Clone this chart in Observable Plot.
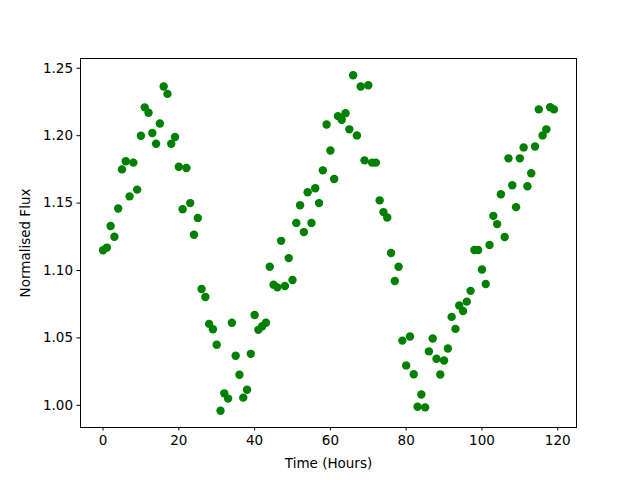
<!DOCTYPE html>
<html>
<head>
<meta charset="utf-8">
<script src="https://cdn.jsdelivr.net/npm/d3@7"></script>
<script src="https://cdn.jsdelivr.net/npm/@observablehq/plot@0.6"></script>
<style>
  html, body { margin: 0; padding: 0; background: #fff; }
</style>
</head>
<body>
<div id="chart"></div>
<script>
const hours = d3.range(0, 120);
const flux = [
  1.115, 1.117, 1.133, 1.125, 1.146, 1.175, 1.181, 1.155, 1.180, 1.160,
  1.200, 1.221, 1.217, 1.202, 1.194, 1.209, 1.2365, 1.231, 1.194, 1.199,
  1.177, 1.1455, 1.176, 1.150, 1.1265, 1.139, 1.0863, 1.0804, 1.0604, 1.0564,
  1.0449, 0.996, 1.0089, 1.005, 1.0612, 1.0368, 1.0227, 1.0057, 1.0116, 1.0382,
  1.067, 1.056, 1.0587, 1.0612, 1.1028, 1.0895, 1.0875, 1.122, 1.0885, 1.1092,
  1.093, 1.1353, 1.1484, 1.1285, 1.158, 1.1353, 1.161, 1.150, 1.1743, 1.2083,
  1.189, 1.1679, 1.2145, 1.2118, 1.2167, 1.2047, 1.2448, 1.2002, 1.2365, 1.1817,
  1.2374, 1.180, 1.180, 1.152, 1.1433, 1.1393, 1.113, 1.0922, 1.1028, 1.048,
  1.0296, 1.051, 1.023, 0.999, 1.008, 0.9985, 1.040, 1.0496, 1.0345, 1.0229,
  1.0333, 1.0422, 1.0656, 1.0567, 1.074, 1.070, 1.0769, 1.0849, 1.1152, 1.1152,
  1.1008, 1.090, 1.1189, 1.1405, 1.1344, 1.1566, 1.1248, 1.1832, 1.1632, 1.147,
  1.1832, 1.1913, 1.1625, 1.1721, 1.192, 1.2195, 1.2002, 1.2047, 1.2211, 1.2195
];
const xTicks = [0, 20, 40, 60, 80, 100, 120];
const yTicks = [1.00, 1.05, 1.10, 1.15, 1.20, 1.25];
const xLabel = "Time (Hours)";
const yLabel = "Normalised Flux";

const data = hours.map((h, i) => ({ h, f: flux[i] }));

const xMin = d3.min(hours), xMax = d3.max(hours);
const yMin = d3.min(flux), yMax = d3.max(flux);
const xPad = (xMax - xMin) * 0.05, yPad = (yMax - yMin) * 0.05;

const chart = Plot.plot({
  width: 640,
  height: 480,
  marginLeft: 80,
  marginRight: 64,
  marginTop: 58,
  marginBottom: 53,
  style: { fontFamily: "DejaVu Sans", fontSize: "13.5px", color: "black", background: "white" },
  x: { domain: [xMin - xPad, xMax + xPad] },
  y: { domain: [yMin - yPad, yMax + yPad] },
  marks: [
    Plot.dot(data, { x: "h", y: "f", r: 4.2, fill: "#008000", stroke: "none" }),
    Plot.frame({ stroke: "black", strokeWidth: 1 }),
    Plot.axisX({ ticks: xTicks, tickSize: 3.5, tickPadding: 4, tickFormat: d => String(d),
      label: xLabel, labelAnchor: "center", labelArrow: "none", labelOffset: 40, strokeWidth: 1 }),
    Plot.axisY({ ticks: yTicks, tickSize: 3.5, tickPadding: 4, tickFormat: d3.format(".2f"),
      label: yLabel, labelAnchor: "center", labelArrow: "none", labelOffset: 60, strokeWidth: 1 })
  ]
});
document.getElementById("chart").appendChild(chart);
</script>
</body>
</html>
